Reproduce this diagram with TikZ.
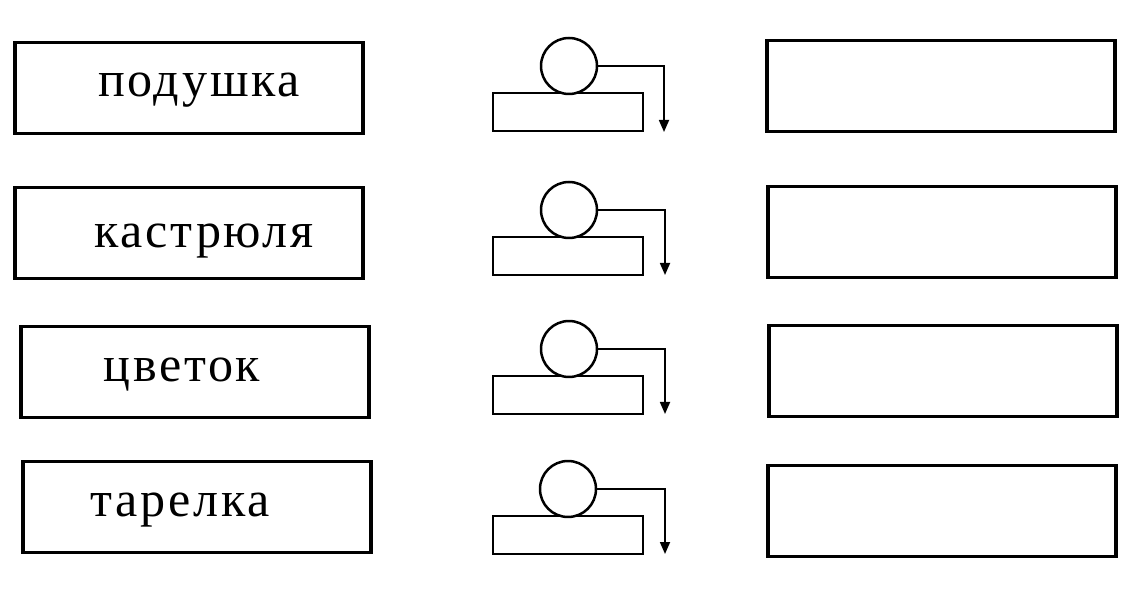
\documentclass[tikz,border=0pt]{standalone}
\usepackage{fontspec}
\setmainfont{Liberation Serif}
\usetikzlibrary{arrows.meta}
\tikzset{
  wordbox/.style={draw, line width=0.07cm, minimum width=6.96cm, minimum height=1.82cm, inner sep=0pt},
  bar/.style={draw, line width=0.045cm, minimum width=3cm, minimum height=0.76cm, inner sep=0pt},
  ball/.style={draw, circle, fill=white, line width=0.05cm, minimum size=1.12cm, inner sep=0pt},
  wire/.style={line width=0.035cm, -{Triangle[width=0.2cm,length=0.24cm]}},
  word/.style={anchor=base, inner sep=0pt, font=\fontsize{28.5}{30}\selectfont\addfontfeatures{LetterSpace=5.5}}
}
\begin{document}
\begin{tikzpicture}[x=0.02cm, y=-0.02cm]
            \useasboundingbox (0,0) rectangle (1136,597);

            % Marking word boxes
            \node [wordbox] (wordbox1) at (189,88) {};%
            \node [word] (word1) at (199,97) {подушка};%
            \node [wordbox] (wordbox2) at (189,233) {};%
            \node [word] (word2) at (204,248) {кастрюля};%
            \node [wordbox] (wordbox3) at (195,372) {};%
            \node [word] (word3) at (182,382) {цветок};%
            \node [wordbox] (wordbox4) at (197,507) {};%
            \node [word] (word4) at (180,517) {тарелка};%

            % Marking ball on bar 1
            \node [bar] (bar1) at (568,112) {};%
            \node [ball] (ball1) at (569,66) {};%
            \coordinate (tip1) at (664,132);%
            \draw [wire] (ball1.east) -| (tip1);%

            % Marking ball on bar 2
            \node [bar] (bar2) at (568,256) {};%
            \node [ball] (ball2) at (569,210) {};%
            \coordinate (tip2) at (665,275);%
            \draw [wire] (ball2.east) -| (tip2);%

            % Marking ball on bar 3
            \node [bar] (bar3) at (568,395) {};%
            \node [ball] (ball3) at (569,349) {};%
            \coordinate (tip3) at (665,414);%
            \draw [wire] (ball3.east) -| (tip3);%

            % Marking ball on bar 4
            \node [bar] (bar4) at (568,535) {};%
            \node [ball] (ball4) at (568,489) {};%
            \coordinate (tip4) at (665,554);%
            \draw [wire] (ball4.east) -| (tip4);%

            % Marking answer boxes
            \node [wordbox] (answer1) at (941,86) {};%
            \node [wordbox] (answer2) at (942,232) {};%
            \node [wordbox] (answer3) at (943,371) {};%
            \node [wordbox] (answer4) at (942,511) {};%
        \end{tikzpicture}
\end{document}
